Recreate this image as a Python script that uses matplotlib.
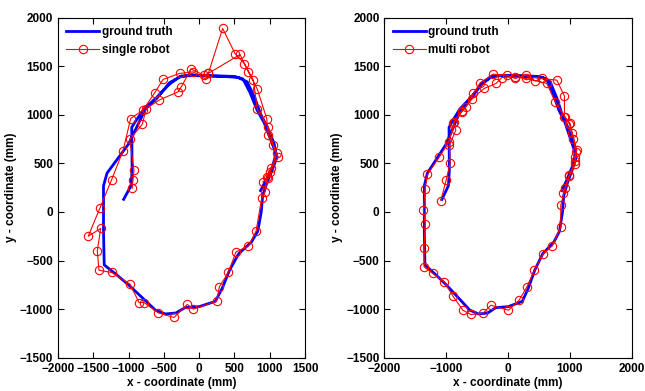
import numpy as np
import matplotlib
matplotlib.use("Agg")
import matplotlib.pyplot as plt

plt.rcParams["font.family"] = ["Liberation Sans", "DejaVu Sans"]
plt.rcParams["font.weight"] = "bold"

# ground truth path (mm)
gt_x = [-1070, -965, -950, -955, -905, -780, -600, -430, -280, -150, 100, 350, 550, 680,
        790, 870, 960, 1060, 1100, 1040, 960, 900, 880, 830, 740, 560, 430, 330, 230, 0,
        -200, -330, -480, -620, -780, -1000, -1180, -1345, -1355, -1355, -1305, -1000,
        -760, -600, -420, -250, 0, 300, 500, 620, 720, 820, 920, 1010, 1090, 1040, 950, 870]
gt_y = [130, 270, 430, 870, 930, 1060, 1180, 1310, 1390, 1405, 1400, 1395, 1385, 1340,
        1170, 1010, 880, 710, 560, 440, 300, 170, 0, -200, -310, -430, -600, -780, -920, -975,
        -985, -1040, -1050, -1010, -900, -750, -640, -545, -200, 270, 400, 700,
        1060, 1170, 1330, 1400, 1405, 1400, 1395, 1370, 1230, 1050, 920, 750, 600, 470, 330, 220]

# single robot estimate (mm)
sr_x = [-950, -937, -923, -984, -805, -749, -569, -300, -253, -115, 69, 130, 333, 508,
        640, 768, 824, 980, 1051, 1122, 1013, 957, 933, 886, 806, 697, 522, 413, 286, 248,
        -83, -168, -356, -579, -781, -852, -980, -1239, -1419, -1443, -1395, -1571, -1405,
        -1239, -1079, -970, -796, -630, -512, -276, -83, 93, 130, 579, 697, 824, 957, 980,
        1099, 1004, 980, 901]
sr_y = [243, 327, 430, 746, 904, 1065, 1151, 1236, 1288, 1470, 1408, 1426, 1889, 1631,
        1528, 1357, 1055, 876, 687, 561, 448, 361, 207, 139, -198, -352, -411, -623, -771, -918,
        -1000, -952, -1086, -1039, -932, -932, -743, -623, -600, -400, -170, -249, 42,
        334, 629, 962, 1048, 1226, 1364, 1426, 1442, 1367, 1426, 1621, 1442, 1264, 962, 790,
        602, 413, 345, 310]

# multi robot estimate (mm)
mr_x = [-1088, -1002, -938, -949, -845, -884, -749, -679, -561, -452, -247, -21, 113, 287,
        437, 545, 788, 911, 911, 1003, 1040, 1111, 1084, 1084, 987, 922, 852, 852, 717, 571,
        426, 303, 178, 5, -279, -409, -603, -732, -894, -1035, -1218, -1358, -1358, -1342,
        -1369, -1342, -1305, -1111, -960, -868, -749, -588, -388, -194, -102, 105, 287, 626,
        761, 922, 992, 1056, 1100, 1084, 992, 894]
mr_y = [118, 327, 499, 687, 842, 917, 1041, 1082, 1220, 1329, 1418, 1408, 1374, 1408,
        1350, 1374, 1357, 1192, 979, 911, 808, 636, 567, 492, 368, 242, 70, -154, -349, -428,
        -599, -771, -908, -1011, -960, -1045, -1055, -1011, -864, -719, -633, -565, -376, -119,
        18, 235, 386, 567, 720, 930, 1031, 1161, 1271, 1323, 1384, 1390, 1374, 1323,
        1134, 979, 904, 756, 619, 520, 380, 196]

fig = plt.figure(figsize=(6.45, 3.91), dpi=100)
ax1 = fig.add_axes([0.0899, 0.0852, 0.383, 0.8696])
ax2 = fig.add_axes([0.596, 0.0852, 0.3835, 0.8696])

panels = [(ax1, sr_x, sr_y, "single robot", (-2000, 1500), np.arange(-2000, 1501, 500)),
          (ax2, mr_x, mr_y, "multi robot", (-2000, 2000), np.arange(-2000, 2001, 1000))]

for ax, ex, ey, lab, xl, xt in panels:
    ax.plot(gt_x, gt_y, color="blue", lw=2, label="ground truth")
    ax.plot(ex, ey, color="red", lw=0.8, marker="o", ms=6, mfc="none", mew=0.8, label=lab)
    ax.set_xlim(*xl)
    ax.set_ylim(-1500, 2000)
    ax.set_xticks(xt)
    ax.set_yticks(np.arange(-1500, 2001, 500))
    ax.tick_params(direction="in", top=True, right=True, labelsize=8.5, length=4)
    ax.set_xlabel("x - coordinate (mm)", fontsize=8.5, fontweight="bold", labelpad=2)
    ax.set_ylabel("y - coordinate (mm)", fontsize=8.5, fontweight="bold", labelpad=2)
    ax.legend(loc="upper left", frameon=False, fontsize=8.5, handlelength=2.8,
              handletextpad=0.2, borderaxespad=0.3, labelspacing=0.5)

fig.savefig("out.png", dpi=100)
